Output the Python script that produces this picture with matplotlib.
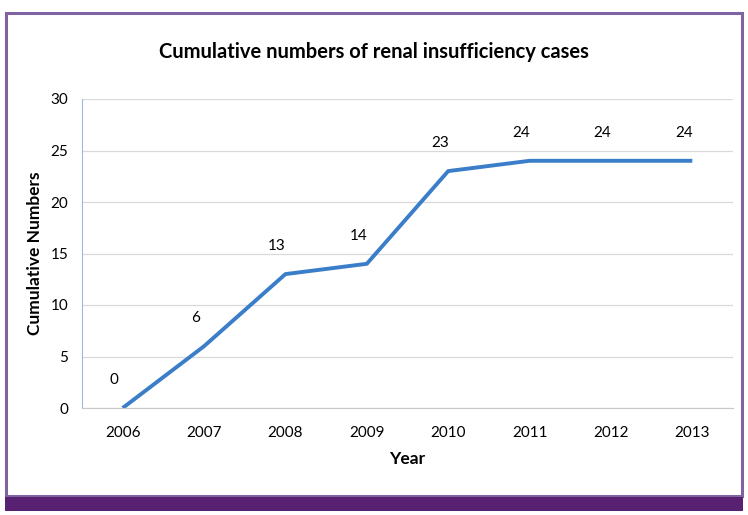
import matplotlib.pyplot as plt
from matplotlib.patches import Rectangle

years = ['2006', '2007', '2008', '2009', '2010', '2011', '2012', '2013']
cases = [0, 6, 13, 14, 23, 24, 24, 24]

plt.rcParams['font.family'] = ['Lato', 'DejaVu Sans']

W, H = 748, 515
fig = plt.figure(figsize=(W / 100, H / 100), dpi=100)

# purple frame and bottom band
fig.patches.append(Rectangle((6 / W, 19 / H), 736 / W, 483 / H, transform=fig.transFigure,
                             fill=False, edgecolor='#8064A2', linewidth=2.2))
fig.patches.append(Rectangle((5 / W, 4 / H), 738 / W, 14 / H, transform=fig.transFigure,
                             facecolor='#582171', edgecolor='none'))

ax = fig.add_axes([82 / W, 1 - 408 / H, 651 / W, 309 / H])
x = range(len(years))
ax.plot(x, cases, color='#3A7DC9', linewidth=2.8, solid_capstyle='butt')

for xi, v in zip(x, cases):
    ax.annotate(str(v), (xi, v), xytext=(-6, 20), textcoords='offset points',
                ha='center', va='center', fontsize=11, color='black')

ax.set_xlim(-0.5, len(years) - 0.5)
ax.set_ylim(0, 30)
ax.set_yticks(range(0, 31, 5))
ax.set_xticks(list(x))
ax.set_xticklabels(years)
ax.tick_params(axis='both', length=0, labelsize=11, colors='black')
ax.tick_params(axis='y', pad=10)
ax.tick_params(axis='x', pad=13)
ax.grid(axis='y', color='#D9D9D9', linewidth=0.9)
ax.set_axisbelow(True)
for s in ['top', 'right']:
    ax.spines[s].set_visible(False)
ax.spines['left'].set_color('#9DB9DD')
ax.spines['bottom'].set_color('#C8C8C8')

ax.set_xlabel('Year', fontsize=12.5, fontweight='bold', labelpad=8)
ax.set_ylabel('Cumulative Numbers', fontsize=12.5, fontweight='bold', labelpad=5)
fig.text(0.5, 1 - 52 / H, 'Cumulative numbers of renal insufficiency cases',
         ha='center', va='center', fontsize=14.5, fontweight='bold')

fig.savefig('out.png', dpi=100)
